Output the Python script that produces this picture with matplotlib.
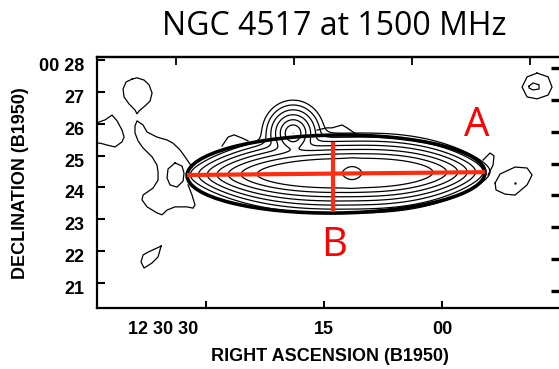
import numpy as np
import matplotlib
matplotlib.use("Agg")
import matplotlib.pyplot as plt
import matplotlib.transforms as mtransforms
from matplotlib.patches import Ellipse

# axis ticks (RA in seconds after 12h30m, Dec in arcmin after +00d)
ra_ticks = [30, 15, 0]
ra_tick_labels = ["12 30 30", "15", "00"]
dec_ticks = [28, 27, 26, 25, 24, 23, 22, 21]
dec_tick_labels = ["00 28", "27", "26", "25", "24", "23", "22", "21"]

# disk model: centre, east/west lengths, vertical scale (arcmin)
disk_ra, disk_dec = 11.44, 24.45
disk_len_east, disk_len_west = 2.31, 1.97
disk_power = 2.6
disk_height, disk_core = 0.1225, 0.314
disk_tilt_deg = 0.6
# central peak
core_amp, core_su, core_sv = 1.37, 0.162, 0.157
# compact source above the disk
src_ra, src_dec = 18.94, 25.70
src_amp, src_sx, src_sy = np.exp(-2), 0.143, 0.150
levels = [np.exp(-8), np.exp(-7), np.exp(-6), np.exp(-5), np.exp(-4),
          np.exp(-3), np.exp(-2), 1.2]

# faint low-level outlines
tl_ra = [39.41, 38.77, 37.88, 37.24, 36.86, 37.12, 37.75, 38.52, 38.77, 39.03, 39.79, 40.42, 40.55, 40.17, 39.41]
tl_dec = [27.40, 27.44, 27.37, 27.22, 26.96, 26.71, 26.56, 26.40, 26.31, 26.43, 26.62, 26.84, 27.09, 27.31, 27.40]
le_ra = [43.98, 42.84, 41.95, 41.31, 40.68, 40.42, 40.68, 41.57, 42.58, 43.47, 43.98]
le_dec = [26.02, 26.12, 26.27, 26.09, 25.80, 25.58, 25.43, 25.27, 25.33, 25.39, 25.39]
lr_ra = [31.78, 32.67, 33.31, 34.20, 34.96, 36.23, 37.50, 38.01, 38.77, 39.03, 39.03, 38.64, 38.01,
         36.86, 36.23, 36.10, 36.10, 36.74, 38.01, 38.14, 37.50, 36.23, 35.59, 34.96, 33.94, 32.42,
         31.65, 31.40, 31.78, 32.29]
lr_dec = [24.64, 24.96, 25.18, 25.39, 25.49, 25.58, 25.74, 25.96, 26.09, 25.93, 25.71, 25.46, 25.24,
          24.96, 24.70, 24.48, 24.23, 23.98, 23.76, 23.61, 23.39, 23.20, 23.14, 23.29, 23.39, 23.39,
          23.35, 23.45, 23.76, 24.08]
io_ra = [33.94, 33.05, 32.80, 32.92, 33.69, 34.58, 34.96, 34.83, 33.94]
io_dec = [24.77, 24.67, 24.45, 24.20, 24.01, 24.08, 24.30, 24.58, 24.77]
ll_ra = [35.72, 36.23, 37.37, 38.01, 38.26, 37.88, 36.86, 36.10, 35.85, 35.72]
ll_dec = [22.16, 22.10, 21.97, 21.88, 21.66, 21.47, 21.63, 21.82, 22.04, 22.16]
ro_ra = [-6.74, -7.37, -9.28, -10.81, -11.44, -10.81, -9.28, -8.01, -6.86, -6.74]
ro_dec = [24.14, 24.42, 24.64, 24.61, 24.39, 24.08, 23.76, 23.79, 23.92, 24.14]
ro_peak_ra, ro_peak_dec = [-9.28], [24.14]
tr_ra = [-12.08, -13.48, -13.98, -13.48, -12.08, -10.81, -10.17, -10.81, -12.08]
tr_dec = [27.59, 27.47, 27.15, 26.90, 26.78, 26.84, 27.15, 27.47, 27.59]
tri_ra = [-11.06, -11.57, -12.33, -12.33, -11.57, -11.06, -11.06]
tri_dec = [27.18, 27.28, 27.22, 27.09, 27.06, 27.12, 27.18]
rt_ra = [-5.21, -6.10, -6.61, -6.48, -5.85]
rt_dec = [24.86, 25.08, 24.99, 24.70, 24.39]
tw_ra = [27.97, 27.20, 26.44, 25.42, 24.66]
tw_dec = [25.30, 25.58, 25.65, 25.55, 25.46]
mw_ra = [15.89, 14.62, 13.98, 12.71, 12.08, 11.31, 10.42]
mw_dec = [25.80, 25.87, 25.87, 25.96, 25.87, 25.74, 25.61]

# fitted ellipse and axes A / B
ell_ra, ell_dec, ell_w, ell_h, ell_ang = 13.47, 24.42, 37.88, 2.448, -0.142
axis_a_ra, axis_a_dec = [32.42, -5.47], [24.39, 24.48]
axis_b_ra, axis_b_dec = [13.86, 13.86], [25.43, 23.23]

red = "#ff2d10"

# brightness model on a grid
ra_grid = np.linspace(44.5, -15.5, 700)
dec_grid = np.linspace(20.0, 28.3, 330)
RA, DEC = np.meshgrid(ra_grid, dec_grid)
x = (RA - disk_ra) * 0.25
y = DEC - disk_dec
t = np.radians(disk_tilt_deg)
u = x * np.cos(t) - y * np.sin(t)
v = x * np.sin(t) + y * np.cos(t)
ulen = np.where(u > 0, disk_len_east, disk_len_west)
disk = np.exp(-(np.abs(u) / ulen) ** disk_power
              - (np.sqrt(v**2 + disk_core**2) - disk_core) / disk_height)
core = core_amp * np.exp(-0.5 * ((u / core_su) ** 2 + (v / core_sv) ** 2))
dx = (RA - src_ra) * 0.25
dy = DEC - src_dec
q = np.sqrt((dx / src_sx) ** 2 + (dy / src_sy) ** 2)
src = src_amp * np.exp(-(np.sqrt(q**2 + 1) - 1))
flux = disk + core + src

fig = plt.figure(figsize=(5.59, 3.69), dpi=100)
ax = fig.add_axes([97 / 559, 61 / 369, 464 / 559, 251 / 369])
ax.set_xlim(43.86, -15.12)
ax.set_ylim(20.216, 28.094)

ax.contour(RA, DEC, flux, levels=levels, colors="k", linewidths=0.9)
for r, d in [(tl_ra, tl_dec), (le_ra, le_dec), (lr_ra, lr_dec), (io_ra, io_dec),
             (ll_ra, ll_dec), (ro_ra, ro_dec), (tr_ra, tr_dec), (tri_ra, tri_dec),
             (rt_ra, rt_dec), (tw_ra, tw_dec), (mw_ra, mw_dec)]:
    ax.plot(r, d, color="k", lw=0.9)
ax.plot(ro_peak_ra, ro_peak_dec, "k.", ms=1.5)

ax.add_patch(Ellipse((ell_ra, ell_dec), ell_w, ell_h, angle=ell_ang,
                     fill=False, ec="k", lw=2.6))
ax.plot(axis_a_ra, axis_a_dec, color=red, lw=3, solid_capstyle="butt")
ax.plot(axis_b_ra, axis_b_dec, color=red, lw=3, solid_capstyle="butt")
ax.text(-4.45, 25.61, "A", color="red", fontsize=29, family="Open Sans",
        ha="center", va="baseline")
ax.text(13.73, 21.85, "B", color="red", fontsize=29, family="Open Sans",
        ha="center", va="baseline")

tick_font = dict(family="Liberation Sans", weight="bold", size=13)
ax.set_xticks(ra_ticks)
ax.set_xticklabels(ra_tick_labels, **tick_font)
ax.set_yticks(dec_ticks)
ax.set_yticklabels(dec_tick_labels, **tick_font)
ax.tick_params(axis="x", direction="in", length=5, width=1.4, pad=9, top=False)
ax.tick_params(axis="y", direction="in", length=6, width=1.5, pad=9, right=False)
for tk in ax.yaxis.get_major_ticks():
    tk.label1.set_transform(tk.label1.get_transform() +
                            mtransforms.ScaledTranslation(0, -0.045, fig.dpi_scale_trans))
first = ax.xaxis.get_major_ticks()[0].label1
first.set_transform(first.get_transform() +
                    mtransforms.ScaledTranslation(-0.43, 0, fig.dpi_scale_trans))
for s in ax.spines.values():
    s.set_linewidth(1.6)
ax.spines["right"].set_visible(False)

top = ax.secondary_xaxis("top", functions=(lambda a: a - 3.81, lambda a: a + 3.81))
top.set_xticks([30, 15, 0, -15])
top.tick_params(direction="in", length=5.5, width=1.3, labeltop=False)
top.spines["top"].set_linewidth(1.6)
right = ax.secondary_yaxis("right", functions=(lambda a: a + 0.25, lambda a: a - 0.25))
right.set_yticks(dec_ticks)
right.tick_params(direction="in", length=7, width=2.4, labelright=False)
right.spines["right"].set_visible(False)

fig.text(334 / 559, 1 - 35 / 369, "NGC 4517 at 1500 MHz", family="Open Sans",
         fontsize=23, ha="center", va="baseline")
fig.text(330 / 559, 1 - 361 / 369, "RIGHT ASCENSION (B1950)", family="Liberation Sans",
         weight="bold", fontsize=13, ha="center", va="baseline")
fig.text(20.5 / 559, 1 - 183 / 369, "DECLINATION (B1950)", family="Liberation Sans",
         weight="bold", fontsize=13, ha="center", va="center", rotation=90)

fig.savefig("out.png", dpi=100)
